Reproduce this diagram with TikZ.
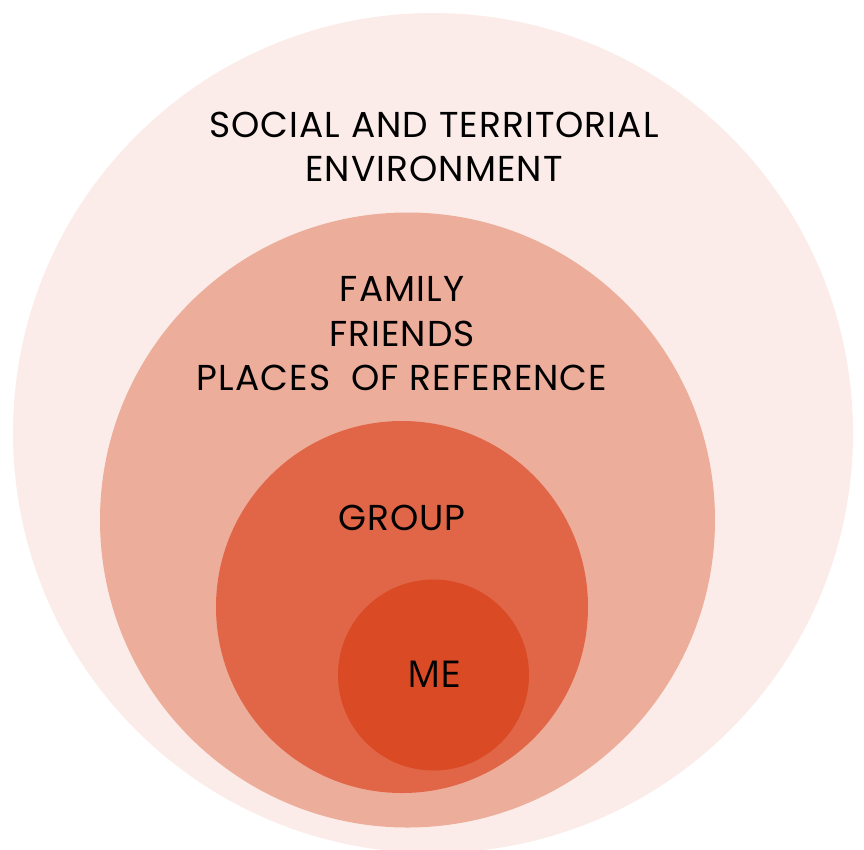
\documentclass[tikz,border=0pt]{standalone}
\usepackage{fontspec}
\setmainfont{Poppins}[LetterSpace=3]
\newfontfamily\mefont{Open Sans}
\definecolor{ringA}{HTML}{FBECE9}
\definecolor{ringB}{HTML}{EDAD9B}
\definecolor{ringC}{HTML}{E06647}
\definecolor{ringD}{HTML}{D94A25}
\begin{document}
\begin{tikzpicture}[x=1pt,y=-1pt,
  ring/.style={circle, draw=none, inner sep=0pt, minimum size=#1},
  lbl/.style={align=center, text=black, inner sep=0pt, font=\fontsize{36}{44.5}\selectfont}]
\useasboundingbox (0,0) rectangle (864,849);
\begin{scope}
\clip (0,0) rectangle (864,849);
\node[ring=840pt, fill=ringA] (env) at (433,433) {};
\node[ring=615pt, fill=ringB] (fam) at (407.5,520) {};
\node[ring=372pt, fill=ringC] (grp) at (402,607) {};
\node[ring=191pt, fill=ringD] (me) at (433.5,675) {};
\end{scope}
\node[lbl] (envt) at (434,147) {SOCIAL AND TERRITORIAL\\ENVIRONMENT};
\node[lbl] (famt) at (402,334) {FAMILY\\FRIENDS\\PLACES\ \ OF REFERENCE};
\node[lbl] (grpt) at (402,518) {GROUP};
\node[lbl, font=\mefont\fontsize{37}{40}\selectfont] (met) at (434,674) {ME};
\end{tikzpicture}
\end{document}
